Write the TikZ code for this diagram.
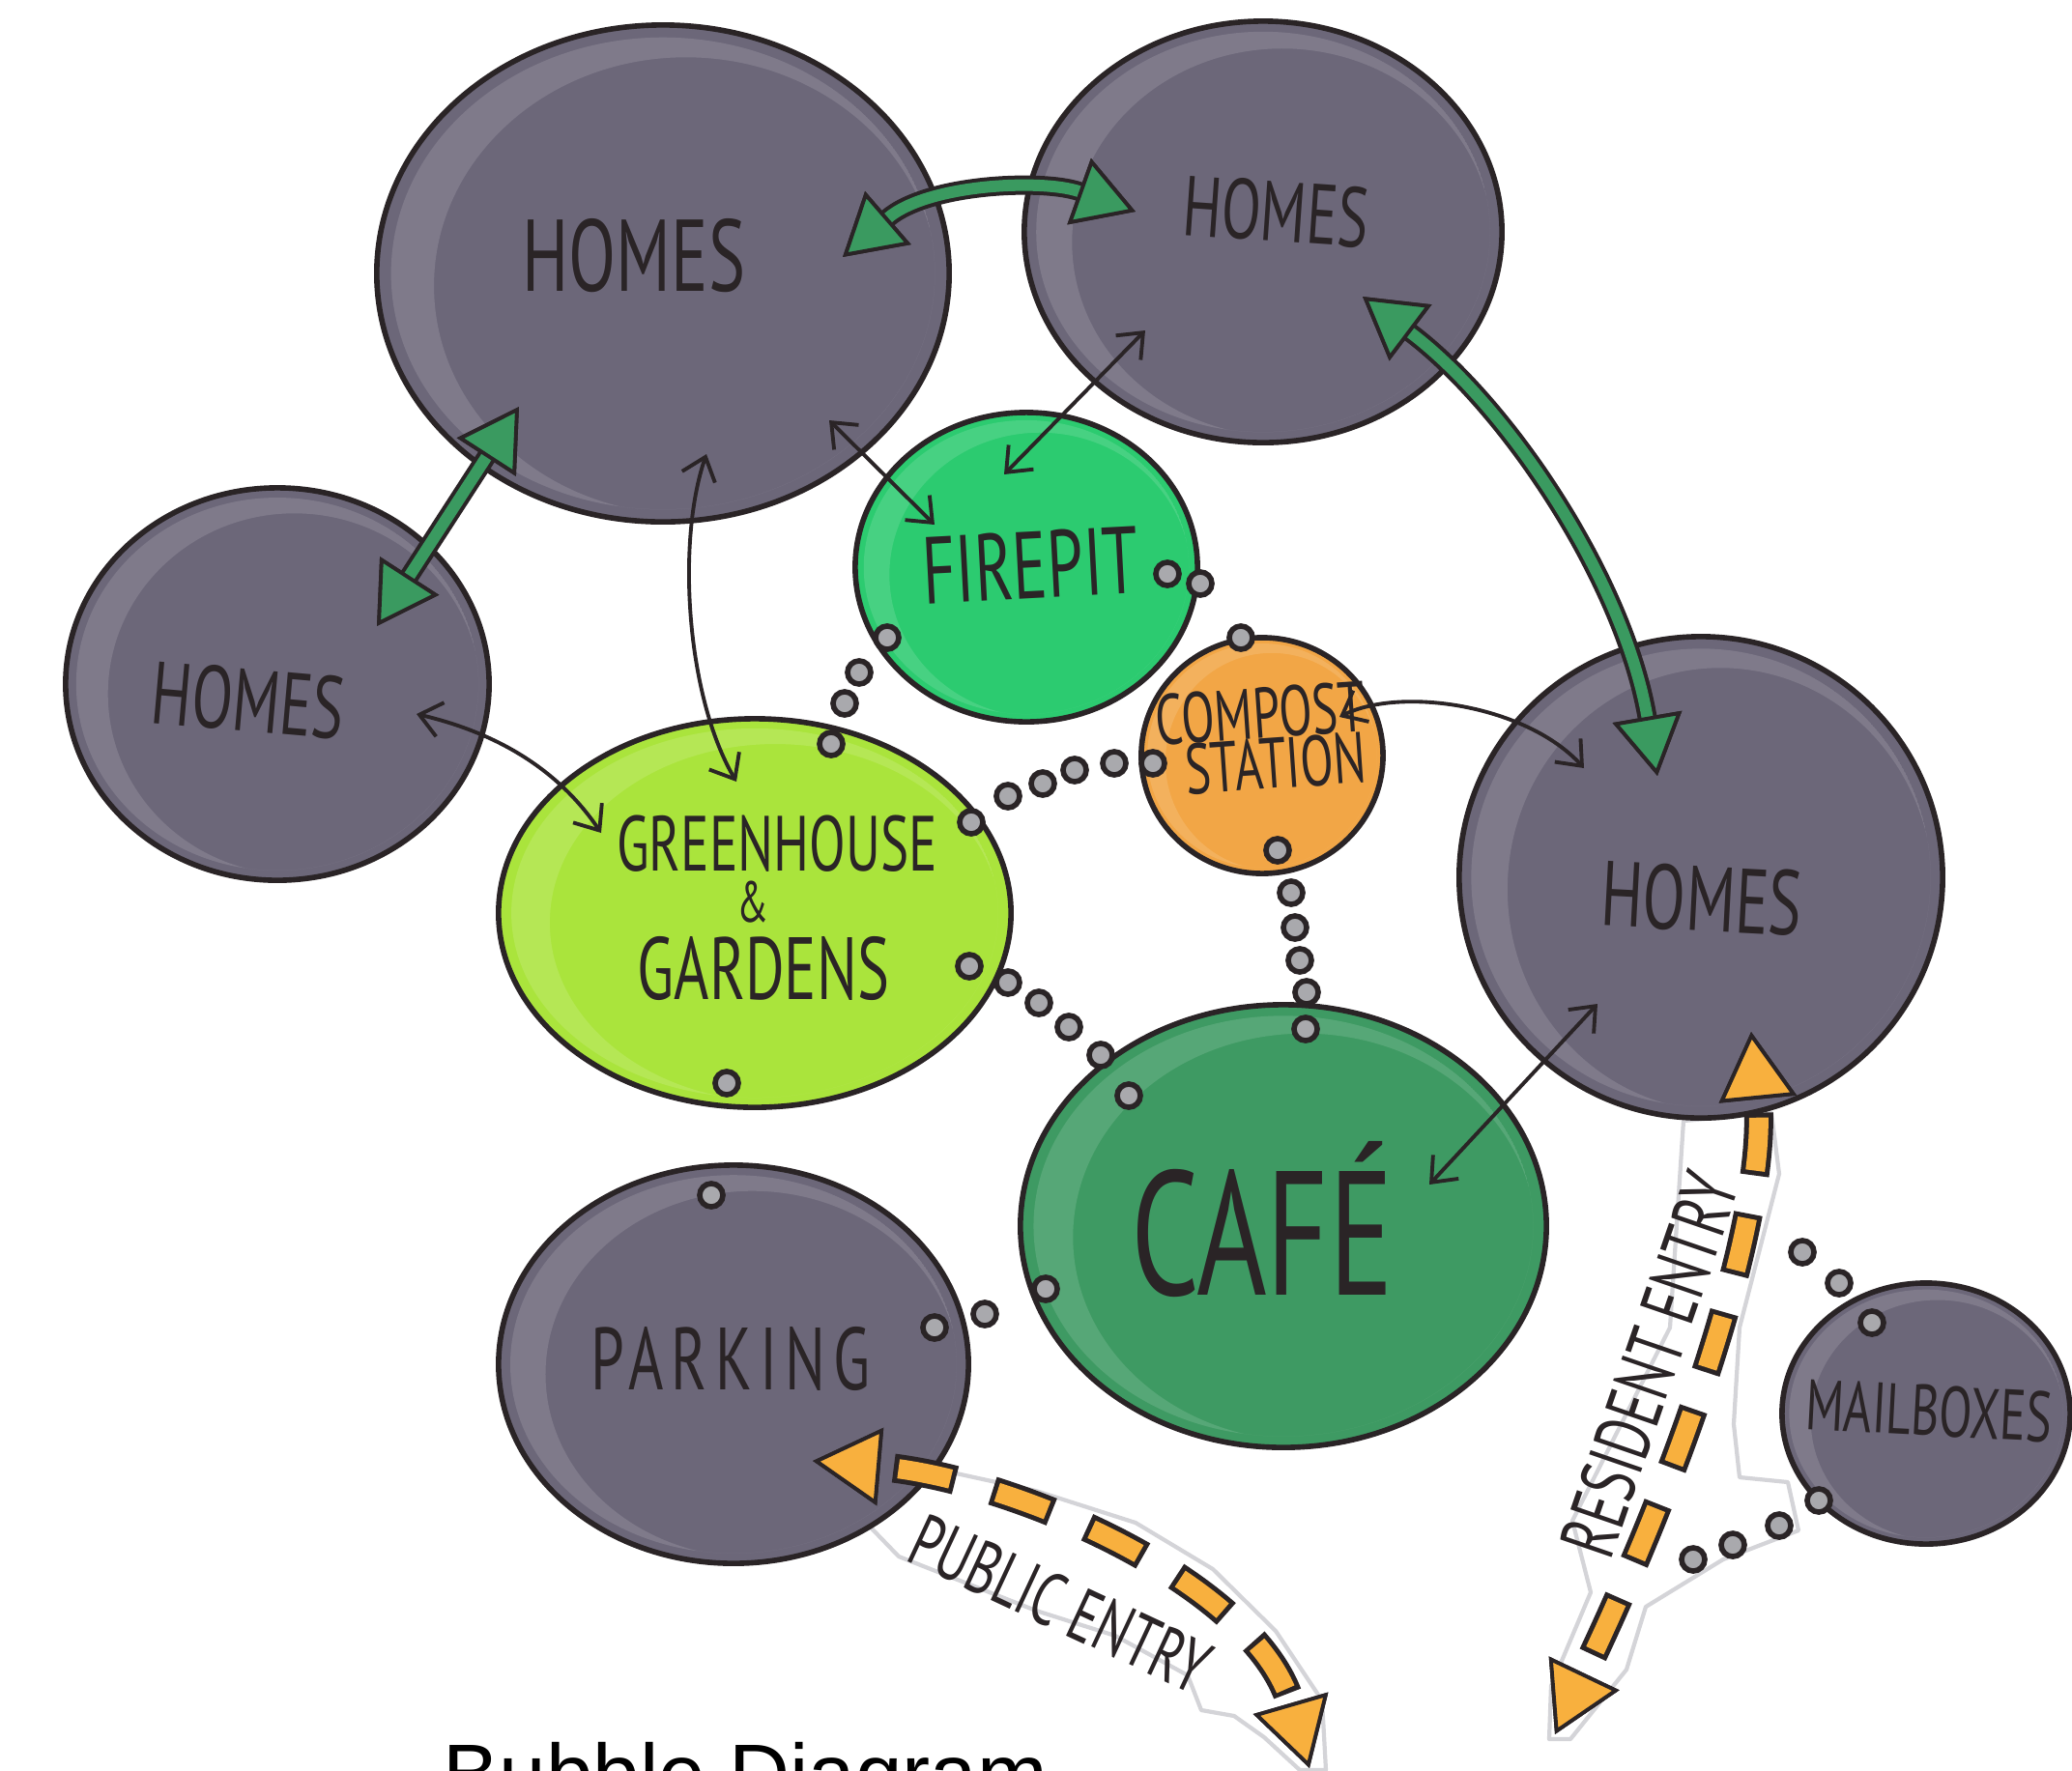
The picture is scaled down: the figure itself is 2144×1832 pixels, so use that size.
\documentclass[tikz,border=0pt]{standalone}
\usepackage{fontspec}
\newfontfamily\handfont[FakeStretch=0.68]{PT Sans}
\newfontfamily\capfont{Liberation Sans}
\newcommand{\handsize}[1]{\handfont\fontsize{#1}{#1}\selectfont}
\usetikzlibrary{shapes.geometric,arrows.meta,calc}

\definecolor{ink}{HTML}{2A2426}
\definecolor{homegray}{HTML}{6C6779}
\definecolor{firegreen}{HTML}{2CCB70}
\definecolor{ghlime}{HTML}{AAE43C}
\definecolor{compostorange}{HTML}{F2A646}
\definecolor{cafegreen}{HTML}{3E9A63}
\definecolor{arrowgreen}{HTML}{3A9A60}
\definecolor{entryorange}{HTML}{F8B03E}
\definecolor{dotgray}{HTML}{A9A9AD}
\definecolor{stripgray}{HTML}{D4D4D8}

\tikzset{
  every node/.style={inner sep=0pt},
  gtip/.tip={Triangle[length=6.2mm,width=7.2mm,fill=arrowgreen,color=ink,line width=1.1pt]},
  etip/.tip={Triangle[length=7mm,width=8mm,fill=entryorange,color=ink,line width=1.1pt]},
  ltip/.tip={Straight Barb[length=2.2mm,width=3.6mm]},
  sheen/.style={path picture={
    \begin{scope}
      \path[clip] let \p1=($(path picture bounding box.north east)-(path picture bounding box.center)$) in
        (path picture bounding box.center) ellipse [x radius=.95*\x1, y radius=.95*\y1];
      \fill[white,opacity=.13,even odd rule] let \p1=($(path picture bounding box.north east)-(path picture bounding box.center)$) in
        (path picture bounding box.center) ellipse [x radius=.95*\x1, y radius=.95*\y1]
        ([xshift=.08*\x1,yshift=-.05*\y1]path picture bounding box.center) ellipse [x radius=.88*\x1, y radius=.92*\y1];
    \end{scope}}},
  bubble/.style={ellipse, draw=ink, line width=1.6pt, sheen},
  lbl/.style={text=ink, font=\handsize{25}},
  dot/.style={circle, fill=dotgray, draw=ink, line width=1.6pt, minimum size=2.4mm},
  link/.style={ink, line width=1.1pt, ltip-ltip},
  gout/.style={ink, line width=2mm, gtip-gtip},
  gin/.style={arrowgreen, line width=1.2mm, gtip-gtip},
  eout/.style={ink, line width=3mm, dash pattern=on 6.5mm off 4mm, dash phase=9mm, etip-etip},
  ein/.style={entryorange, line width=2mm, dash pattern=on 5.5mm off 5mm, dash phase=8.5mm, etip-etip},
  strip/.style={fill=white, draw=stripgray, line width=1.2pt, line join=round}
}

\begin{document}
\begin{tikzpicture}[x=0.01cm,y=-0.01cm]
  \useasboundingbox (0,0) rectangle (2144,1832);

  % paper strips under the entries
  \path[strip] (930,1512) -- (1072,1543) -- (1175,1576) -- (1255,1624) -- (1320,1688) -- (1368,1760)
    -- (1372,1832) -- (1345,1832) -- (1308,1798) -- (1277,1776) -- (1243,1770) -- (1229,1734)
    -- (1154,1693) -- (1072,1667) -- (930,1611) -- (902,1582) -- (905,1560) -- cycle;
  \path[strip] (1742,1160) -- (1728,1374) -- (1627,1574) -- (1646,1648) -- (1605,1745) -- (1603,1800)
    -- (1625,1800) -- (1683,1728) -- (1703,1663) -- (1783,1614) -- (1861,1584) -- (1850,1534)
    -- (1800,1529) -- (1794,1474) -- (1800,1374) -- (1841,1215) -- (1833,1152) -- cycle;

  % bubbles
  \node[bubble, fill=homegray, minimum width=5.92cm, minimum height=5.14cm] (htl) at (686,283) {};
  \node[bubble, fill=homegray, minimum width=4.94cm, minimum height=4.36cm] (htr) at (1307,240) {};
  \node[bubble, fill=homegray, minimum width=4.38cm, minimum height=4.06cm] (hl) at (287,708) {};
  \node[bubble, fill=homegray, minimum width=5.00cm, minimum height=4.98cm] (hr) at (1760,908) {};
  \node[bubble, fill=firegreen, minimum width=3.54cm, minimum height=3.20cm] (fp) at (1062,587) {};
  \node[bubble, fill=compostorange, minimum width=2.50cm, minimum height=2.44cm] (cs) at (1306,782) {};
  \node[bubble, fill=ghlime, minimum width=5.30cm, minimum height=4.02cm] (gh) at (781,945) {};
  \node[bubble, fill=cafegreen, minimum width=5.44cm, minimum height=4.58cm] (cf) at (1328,1269) {};
  \node[bubble, fill=homegray, minimum width=4.86cm, minimum height=4.12cm] (pk) at (759,1412) {};
  \node[bubble, fill=homegray, minimum width=2.98cm, minimum height=2.70cm] (mb) at (1993,1463) {};

  % labels
  \node[lbl, font=\handsize{30}] (htl-t) at (656,265) {HOMES};
  \node[lbl, rotate=-4] (htr-t) at (1320,219) {HOMES};
  \node[lbl, font=\handsize{26}, rotate=-5] (hl-t) at (257,725) {HOMES};
  \node[lbl, font=\handsize{27}, rotate=-3] (hr-t) at (1761,930) {HOMES};
  \node[lbl, font=\handsize{28}, rotate=3] (fp-t) at (1066,585) {FIREPIT};
  \node[lbl, font=\handsize{21}, rotate=4] (cs-t1) at (1304,738) {COMPOST};
  \node[lbl, font=\handsize{21}, rotate=4] (cs-t2) at (1320,790) {STATION};
  \node[lbl, font=\handsize{23}] (gh-t1) at (804,873) {GREENHOUSE};
  \node[lbl, font=\handsize{17}] (gh-t2) at (779,934) {\&};
  \node[lbl, font=\handsize{26}] (gh-t3) at (790,1002) {GARDENS};
  \node[lbl, font=\handsize{52}] (cf-t) at (1306,1262) {CAFÉ};
  \node[lbl, font=\handsize{26}\addfontfeature{LetterSpace=9}] (pk-t) at (756,1406) {PARKING};
  \node[lbl, font=\handsize{21}, rotate=-3] (mb-t) at (1996,1460) {MAILBOXES};
  \node[lbl, font=\handsize{22}, rotate=-25] (pe-t) at (1097,1660) {PUBLIC ENTRY};
  \node[lbl, font=\handsize{23}, rotate=71] (re-t) at (1707,1412) {RESIDENT ENTRY};

  % green links between homes
  \coordinate (g1a) at (872,266);  \coordinate (g1b) at (1175,219);
  \coordinate (g2a) at (537,421);  \coordinate (g2b) at (390,648);
  \coordinate (g3a) at (1410,307); \coordinate (g3b) at (1715,803);
  \foreach \s in {gout,gin} {
    \draw[\s] (g1a) .. controls (960,190) and (1080,185) .. (g1b);
    \draw[\s] (g2a) -- (g2b);
    \draw[\s] (g3a) .. controls (1560,420) and (1680,600) .. (g3b);
  }

  % thin links
  \coordinate (l1a) at (1185,342); \coordinate (l1b) at (1039,491);
  \coordinate (l2a) at (858,435);  \coordinate (l2b) at (967,543);
  \coordinate (l3a) at (731,470);  \coordinate (l3b) at (762,809);
  \coordinate (l4a) at (431,739);  \coordinate (l4b) at (622,862);
  \coordinate (l5a) at (1386,742); \coordinate (l5b) at (1639,795);
  \coordinate (l6a) at (1653,1039); \coordinate (l6b) at (1479,1226);
  \draw[link] (l1a) -- (l1b);
  \draw[link] (l2a) -- (l2b);
  \draw[link] (l3a) .. controls (700,560) and (710,720) .. (l3b);
  \draw[link] (l4a) .. controls (520,760) and (580,800) .. (l4b);
  \draw[link] (l5a) .. controls (1450,710) and (1580,730) .. (l5b);
  \draw[link] (l6a) -- (l6b);

  % entries
  \coordinate (pe1) at (841,1512); \coordinate (pe2) at (1355,1830);
  \coordinate (re1) at (1812,1068); \coordinate (re2) at (1609,1795);
  \foreach \s in {eout,ein} {
    \draw[\s] (pe1) .. controls (1050,1530) and (1300,1640) .. (pe2);
    \draw[\s] (re1) .. controls (1830,1250) and (1750,1500) .. (re2);
  }

  % dotted paths
  \foreach \x/\y [count=\i] in {918/660, 889/696, 874/728, 860/770, 1208/594, 1242/604, 1284/660,
      1005/851, 1043/824, 1079/811, 1112/797, 1153/790, 1193/790,
      1322/880, 1336/924, 1340/960, 1345/994, 1352/1027, 1351/1065,
      1003/1000, 1043/1017, 1075/1038, 1106/1063, 1139/1092, 1168/1134,
      752/1121, 736/1237, 967/1374, 1019/1360, 1082/1334,
      1865/1296, 1903/1328, 1937/1369, 1882/1553, 1841/1579, 1793/1599, 1752/1614}
    \node[dot] (dot\i) at (\x,\y) {};

  \node[font=\capfont\fontsize{24.8}{24.8}\selectfont, anchor=base west] (caption) at (458,1866) {Bubble Diagram};
\end{tikzpicture}
\end{document}
